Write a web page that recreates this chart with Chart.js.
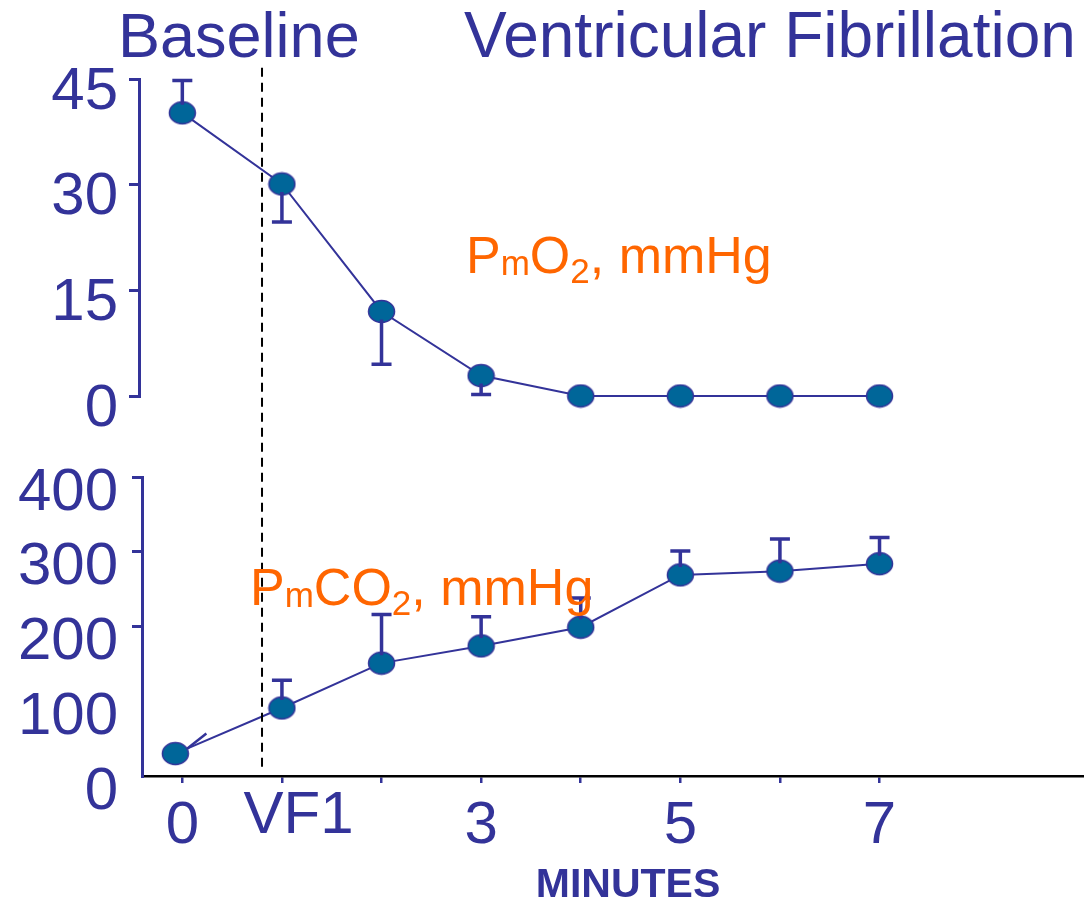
<!DOCTYPE html>
<html>
<head>
<meta charset="utf-8">
<script src="https://cdn.jsdelivr.net/npm/chart.js@4.4.0/dist/chart.umd.min.js"></script>
<style>
  html, body { margin: 0; padding: 0; background: #fff; }
  #wrap { position: relative; width: 1084px; height: 902px; }
  canvas { position: absolute; left: 0; top: 0; }
</style>
</head>
<body>
<div id="wrap">
  <canvas id="topChart" width="1084" height="902"></canvas>
  <canvas id="bottomChart" width="1084" height="902"></canvas>
</div>
<script>
// data
const minutes = [0, 1, 2, 3, 4, 5, 6, 7];
const xTickLabels = {0: '0', 1: '  VF1', 3: '3', 5: '5', 7: '7'};

const po2 = [40.2, 30.1, 12.0, 2.9, 0, 0, 0, 0];
const po2ErrEnd = [44.8, 24.7, 4.5, 0.2, null, null, null, null];
const po2Ticks = [0, 15, 30, 45];

const pco2Minutes = [-0.07, 1, 2, 3, 4, 5, 6, 7];
const pco2 = [30, 91, 151, 174, 199, 269, 274, 284];
const pco2ErrEnd = [null, 128, 216, 213, 238, 301, 317, 319];
const pco2Ticks = [0, 100, 200, 300, 400];

const vfOnset = 0.8;

const BLUE = '#333399';
const ORANGE = '#ff6600';
const FONT = '"Liberation Sans", Arial, sans-serif';

function ellipseMarker() {
  const c = document.createElement('canvas');
  c.width = 29; c.height = 25;
  const g = c.getContext('2d');
  g.beginPath();
  g.ellipse(14.5, 12.5, 13, 11, 0, 0, Math.PI * 2);
  g.fillStyle = '#006699';
  g.fill();
  g.lineWidth = 1.5;
  g.strokeStyle = BLUE;
  g.stroke();
  return c;
}
const marker = ellipseMarker();

const errorBars = {
  id: 'errorBars',
  afterDatasetsDraw(chart, args, opts) {
    const ctx = chart.ctx;
    const meta = chart.getDatasetMeta(0);
    const ys = chart.scales.y;
    ctx.save();
    ctx.strokeStyle = BLUE;
    ctx.lineWidth = 3.5;
    opts.ends.forEach((v, i) => {
      if (v === null) return;
      const pt = meta.data[i];
      const yEnd = ys.getPixelForValue(v);
      const dir = yEnd < pt.y ? -1 : 1;
      ctx.beginPath();
      ctx.moveTo(pt.x, pt.y + dir * 8);
      ctx.lineTo(pt.x, yEnd);
      ctx.moveTo(pt.x - 10, yEnd);
      ctx.lineTo(pt.x + 10, yEnd);
      ctx.stroke();
    });
    ctx.restore();
  }
};

function dataset(xs, ys) {
  return {
    data: xs.map((x, i) => ({x: x, y: ys[i]})),
    borderColor: BLUE,
    borderWidth: 2,
    pointStyle: marker,
    pointRadius: 12,
    pointHoverRadius: 12,
    clip: false
  };
}

const topChart = new Chart(document.getElementById('topChart'), {
  type: 'line',
  data: { datasets: [dataset(minutes, po2)] },
  options: {
    responsive: false,
    animation: false,
    layout: { autoPadding: false, padding: { top: 79, bottom: 506, left: 0, right: 0 } },
    plugins: { legend: { display: false }, tooltip: { enabled: false }, errorBars: { ends: po2ErrEnd } },
    scales: {
      x: { type: 'linear', display: false, min: -0.435, max: 9.053 },
      y: {
        min: 0, max: 45,
        afterBuildTicks: s => { s.ticks = po2Ticks.map(v => ({value: v})); },
        afterFit: s => { s.width = 139; },
        ticks: { autoSkip: false, color: BLUE, font: { family: FONT, size: 60 }, padding: 11, labelOffset: 13 },
        grid: { drawOnChartArea: false, color: BLUE, lineWidth: 3, tickLength: 10 },
        border: { color: BLUE, width: 3 }
      }
    }
  },
  plugins: [errorBars]
});

function subText(ctx, x, y, parts, size, subSize) {
  parts.forEach(p => {
    const sub = p[1] !== undefined;
    ctx.font = (sub ? subSize : size) + 'px ' + FONT;
    ctx.fillText(p[0], x, y + (sub ? p[1] : 0));
    x += ctx.measureText(p[0]).width;
  });
}

const annotations = {
  id: 'annotations',
  afterDraw(chart) {
    const ctx = chart.ctx;
    const xs = chart.scales.x;
    ctx.save();

    // VF onset marker
    ctx.strokeStyle = '#000';
    ctx.lineWidth = 2;
    ctx.setLineDash([9, 6]);
    ctx.beginPath();
    const vx = xs.getPixelForValue(vfOnset);
    ctx.moveTo(vx, topChart.scales.y.getPixelForValue(46.6));
    ctx.lineTo(vx, chart.scales.y.getPixelForValue(10));
    ctx.stroke();
    ctx.setLineDash([]);

    // arrowhead on the first PmCO2 segment
    const p0 = chart.getDatasetMeta(0).data[0];
    ctx.strokeStyle = BLUE;
    ctx.lineWidth = 2.5;
    ctx.beginPath();
    ctx.moveTo(p0.x + 12, p0.y - 5);
    ctx.lineTo(p0.x + 31, p0.y - 20);
    ctx.stroke();

    ctx.textBaseline = 'alphabetic';
    ctx.fillStyle = BLUE;
    ctx.textAlign = 'left';
    ctx.font = '63px ' + FONT;
    ctx.fillText('Baseline', 118, 57);
    ctx.font = '64px ' + FONT;
    ctx.fillText('Ventricular Fibrillation', 464, 57);

    ctx.font = 'bold 41px ' + FONT;
    ctx.textAlign = 'center';
    ctx.fillText('MINUTES', 628, 897);

    ctx.textAlign = 'left';
    ctx.fillStyle = ORANGE;
    subText(ctx, 466, 273, [['P'], ['m', 2], ['O'], ['2', 10], [', mmHg']], 52, 35);
    subText(ctx, 250, 605, [['P'], ['m', 2], ['CO'], ['2', 10], [', mmHg']], 52, 35);
    ctx.restore();
  }
};

new Chart(document.getElementById('bottomChart'), {
  type: 'line',
  data: { datasets: [dataset(pco2Minutes, pco2)] },
  options: {
    responsive: false,
    animation: false,
    layout: { autoPadding: false, padding: { top: 477, bottom: 0, left: 0, right: 0 } },
    plugins: { legend: { display: false }, tooltip: { enabled: false }, errorBars: { ends: pco2ErrEnd } },
    scales: {
      x: {
        type: 'linear', min: -0.405, max: 9.053,
        afterBuildTicks: s => { s.ticks = minutes.map(v => ({value: v})); },
        afterFit: s => { s.height = 126; },
        ticks: {
          autoSkip: false, maxRotation: 0, color: BLUE, padding: 7,
          font: c => ({ family: FONT, size: 60, lineHeight: (c.tick && c.tick.value === 1) ? 0.87 : 1.2 }),
          callback: v => xTickLabels[v] !== undefined ? xTickLabels[v] : ''
        },
        grid: { drawOnChartArea: false, color: BLUE, lineWidth: 2.5, tickLength: 7 },
        border: { color: '#000', width: 2.5 }
      },
      y: {
        min: 0, max: 400,
        afterBuildTicks: s => { s.ticks = pco2Ticks.map(v => ({value: v})); },
        afterFit: s => { s.width = 142; },
        ticks: { autoSkip: false, color: BLUE, font: { family: FONT, size: 60 }, padding: 14, labelOffset: 16 },
        grid: {
          drawOnChartArea: false, lineWidth: 3, tickLength: 10,
          color: c => (c.tick && c.tick.value >= 200) ? BLUE : 'rgba(0,0,0,0)'
        },
        border: { color: BLUE, width: 3 }
      }
    }
  },
  plugins: [errorBars, annotations]
});
</script>
</body>
</html>
